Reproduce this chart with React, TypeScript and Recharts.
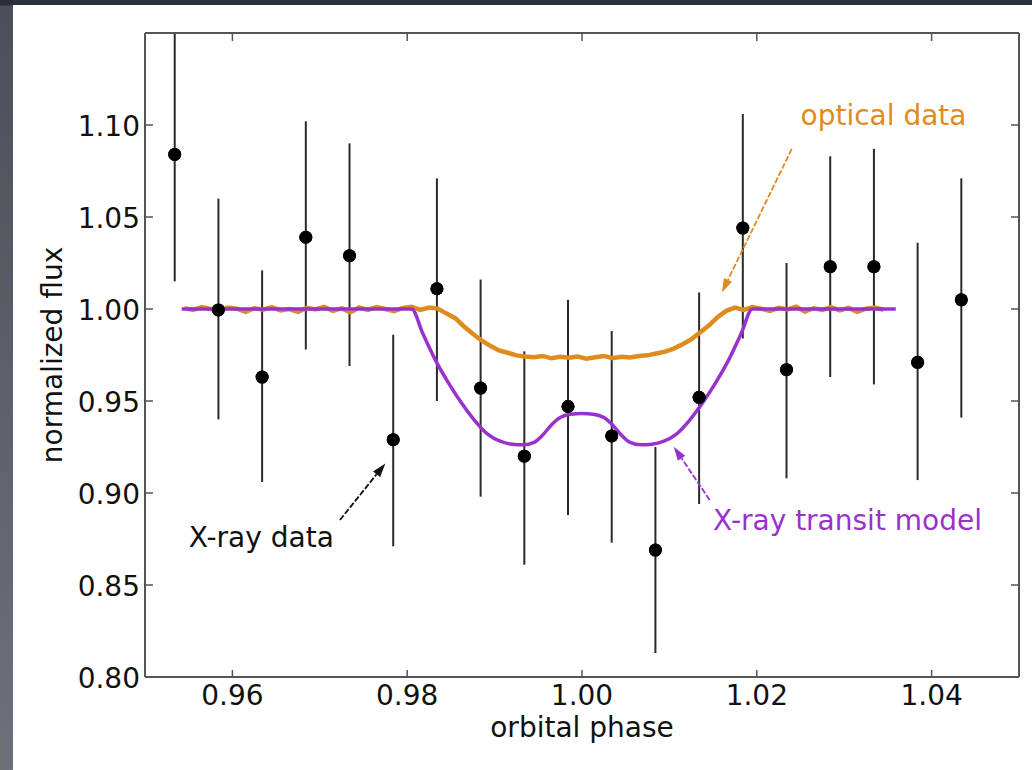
import { ComposedChart, ErrorBar, Line, ReferenceDot, ReferenceLine, Scatter, XAxis, YAxis } from 'recharts'

// X-ray light curve (binned points with asymmetric error bars)
const xrayPhase = [0.9534, 0.9584, 0.9634, 0.9684, 0.9734, 0.9784, 0.9834, 0.9884, 0.9934, 0.9984, 1.0034, 1.0084, 1.0134, 1.0184, 1.0234, 1.0284, 1.0334, 1.0384, 1.0434]
const xrayFlux = [1.084, 0.9995, 0.963, 1.039, 1.029, 0.929, 1.011, 0.957, 0.920, 0.947, 0.931, 0.869, 0.952, 1.044, 0.967, 1.023, 1.023, 0.971, 1.005]
const xrayLow = [1.015, 0.940, 0.906, 0.978, 0.969, 0.871, 0.950, 0.898, 0.861, 0.888, 0.873, 0.813, 0.894, 0.984, 0.908, 0.963, 0.959, 0.907, 0.941]
const xrayHigh = [1.15, 1.060, 1.021, 1.102, 1.090, 0.986, 1.071, 1.016, 0.977, 1.005, 0.988, 0.925, 1.009, 1.106, 1.025, 1.083, 1.087, 1.036, 1.071]

// optical light curve
const opticalPhase = [
  0.9545, 0.9555, 0.9565, 0.9575, 0.9585, 0.9595, 0.9605, 0.9615, 0.9625, 0.9635,
  0.9645, 0.9655, 0.9665, 0.9675, 0.9685, 0.9695, 0.9705, 0.9715, 0.9725, 0.9735,
  0.9745, 0.9755, 0.9765, 0.9775, 0.9785, 0.9795, 0.9805, 0.9815, 0.9825, 0.9835,
  0.9845, 0.9855, 0.9865, 0.9875, 0.9885, 0.9895, 0.9905, 0.9915, 0.9925, 0.9935,
  0.9945, 0.9955, 0.9965, 0.9975, 0.9985, 0.9995, 1.0005, 1.0015, 1.0025, 1.0035,
  1.0045, 1.0055, 1.0065, 1.0075, 1.0085, 1.0095, 1.0105, 1.0115, 1.0125, 1.0135,
  1.0145, 1.0155, 1.0165, 1.0175, 1.0185, 1.0195, 1.0205, 1.0215, 1.0225, 1.0235,
  1.0245, 1.0255, 1.0265, 1.0275, 1.0285, 1.0295, 1.0305, 1.0315, 1.0325, 1.0335,
  1.0345,
]
const opticalFlux = [
  1.0005, 0.9995, 1.0010, 1.0000, 0.9990, 1.0008, 1.0002, 0.9985, 1.0004, 0.9996,
  1.0010, 0.9992, 1.0000, 0.9985, 1.0006, 0.9998, 1.0012, 0.9990, 1.0003, 0.9982,
  1.0008, 0.9995, 1.0010, 1.0000, 0.9988, 1.0006, 1.0012, 0.9995, 1.0008, 1.0002,
  0.9975, 0.9950, 0.9905, 0.9865, 0.9830, 0.9800, 0.9775, 0.9762, 0.9748, 0.9742,
  0.9738, 0.9745, 0.9732, 0.9740, 0.9735, 0.9742, 0.9730, 0.9738, 0.9745, 0.9733,
  0.9740, 0.9736, 0.9745, 0.9748, 0.9758, 0.9768, 0.9785, 0.9808, 0.9835, 0.9872,
  0.9910, 0.9955, 0.9990, 1.0008, 0.9995, 1.0010, 1.0002, 0.9990, 1.0006, 0.9998,
  1.0012, 0.9986, 1.0004, 0.9995, 1.0010, 0.9992, 1.0006, 0.9985, 1.0002, 1.0008,
  0.9996,
]

// X-ray transit model
const modelPhase = [0.9542, 0.9805, 0.9818, 0.9832, 0.9847, 0.9862, 0.9877, 0.9892, 0.9907, 0.992, 0.9933, 0.9945, 0.9955, 0.9965, 0.9975, 0.9987, 1.0, 1.0013, 1.0025, 1.0035, 1.0045, 1.0055, 1.0068, 1.008, 1.0093, 1.0108, 1.0123, 1.0138, 1.0153, 1.0168, 1.0182, 1.0195, 1.0359]
const modelFlux = [1.0, 1.0, 0.9865, 0.9725, 0.96, 0.949, 0.9395, 0.932, 0.928, 0.9265, 0.9262, 0.9275, 0.9315, 0.937, 0.941, 0.9428, 0.9432, 0.9428, 0.941, 0.937, 0.9315, 0.9275, 0.9262, 0.9265, 0.928, 0.932, 0.9395, 0.949, 0.96, 0.9725, 0.9865, 1.0, 1.0]

const xTicks = [0.96, 0.98, 1.0, 1.02, 1.04]
const yTicks = [0.8, 0.85, 0.9, 0.95, 1.0, 1.05, 1.1]

const xray = xrayPhase.map((x, i) => ({ x, y: xrayFlux[i], err: [xrayFlux[i] - xrayLow[i], xrayHigh[i] - xrayFlux[i]] }))
const optical = opticalPhase.map((x, i) => ({ x, y: opticalFlux[i] }))
const model = modelPhase.map((x, i) => ({ x, y: modelFlux[i] }))

const FONT = 'DejaVu Sans'
const FRAME = '#555'
const ORANGE = '#DF8B1E'
const PURPLE = '#9932CC'

const BottomTick = (p: any) => (
  <g>
    <line x1={p.x} x2={p.x} y1={p.y} y2={p.y - 7} stroke={FRAME} strokeWidth={1.5} />
    <text x={p.x} y={p.y + 28} textAnchor="middle" fontFamily={FONT} fontSize={28} fill="#111">
      {p.payload.value.toFixed(2)}
    </text>
  </g>
)
const LeftTick = (p: any) => (
  <g>
    <line x1={p.x} x2={p.x + 8} y1={p.y} y2={p.y} stroke={FRAME} strokeWidth={1.5} />
    <text x={p.x - 5} y={p.y + 11} textAnchor="end" fontFamily={FONT} fontSize={28} fill="#111">
      {p.payload.value.toFixed(2)}
    </text>
  </g>
)
const TopTick = (p: any) => <line x1={p.x} x2={p.x} y1={p.y} y2={p.y + 8} stroke={FRAME} strokeWidth={1.5} />
const RightTick = (p: any) => <line x1={p.x} x2={p.x - 8} y1={p.y} y2={p.y} stroke={FRAME} strokeWidth={1.5} />

const XLabel = (p: any) => {
  const vb = p.viewBox
  return (
    <text x={vb.x + vb.width / 2} y={vb.y + vb.height} textAnchor="middle" fontFamily={FONT} fontSize={28} fill="#111">
      orbital phase
    </text>
  )
}
const YLabel = (p: any) => {
  const vb = p.viewBox
  const cx = 49
  const cy = vb.y + vb.height / 2
  return (
    <text x={cx} y={cy} transform={`rotate(-90, ${cx}, ${cy})`} textAnchor="middle" fontFamily={FONT} fontSize={28} fill="#111">
      normalized flux
    </text>
  )
}

const note = (text: string, color: string) => (p: any) => (
  <text x={p.viewBox.x} y={p.viewBox.y} fontFamily={FONT} fontSize={28} fill={color}>
    {text}
  </text>
)

const arrow = (color: string) => (p: any) => {
  const { x1, y1, x2, y2 } = p
  const dx = x2 - x1
  const dy = y2 - y1
  const len = Math.hypot(dx, dy) || 1
  const ux = dx / len
  const uy = dy / len
  const head = 14
  const half = 4.5
  const bx = x2 - ux * head
  const by = y2 - uy * head
  const pts = `${x2},${y2} ${bx - uy * half},${by + ux * half} ${bx + uy * half},${by - ux * half}`
  return (
    <g>
      <line x1={x1} y1={y1} x2={bx} y2={by} stroke={color} strokeWidth={1.8} strokeDasharray="6 2" />
      <polygon points={pts} fill={color} />
    </g>
  )
}

const dot = (p: any) => <circle cx={p.cx} cy={p.cy} r={6.5} fill="#000" />

export default function App() {
  return (
    <div
      style={{
        position: 'absolute',
        left: 0,
        top: 0,
        width: 1032,
        height: 770,
        overflow: 'hidden',
        background: 'linear-gradient(to bottom, #2b2f37 0px, #2b2f37 5px, #4b4f59 6px, #6d7179 100%)',
      }}
    >
      <div style={{ position: 'absolute', left: 13, top: 5, width: 1019, height: 765, background: '#fff' }}>
        <ComposedChart width={1019} height={765} margin={{ top: 27, right: 12, bottom: 33, left: 0 }}>
          <XAxis
            dataKey="x"
            type="number"
            domain={[0.95, 1.05]}
            ticks={xTicks}
            allowDataOverflow
            height={60}
            tickSize={0}
            tickMargin={0}
            tickLine={false}
            tick={BottomTick}
            axisLine={{ stroke: FRAME, strokeWidth: 2 }}
            label={{ content: XLabel }}
          />
          <XAxis
            xAxisId="top"
            orientation="top"
            dataKey="x"
            type="number"
            domain={[0.95, 1.05]}
            ticks={xTicks}
            allowDataOverflow
            height={1}
            tickSize={0}
            tickMargin={0}
            tickLine={false}
            tick={TopTick}
            axisLine={{ stroke: FRAME, strokeWidth: 2 }}
          />
          <YAxis
            dataKey="y"
            type="number"
            domain={[0.8, 1.15]}
            ticks={yTicks}
            allowDataOverflow
            width={132}
            tickSize={0}
            tickMargin={0}
            tickLine={false}
            tick={LeftTick}
            axisLine={{ stroke: FRAME, strokeWidth: 2 }}
            label={{ content: YLabel }}
          />
          <YAxis
            yAxisId="right"
            orientation="right"
            dataKey="y"
            type="number"
            domain={[0.8, 1.15]}
            ticks={yTicks}
            allowDataOverflow
            width={1}
            tickSize={0}
            tickMargin={0}
            tickLine={false}
            tick={RightTick}
            axisLine={{ stroke: FRAME, strokeWidth: 2 }}
          />
          <Scatter data={xray} dataKey="y" shape={dot} isAnimationActive={false}>
            <ErrorBar dataKey="err" direction="y" width={0} stroke="#2a2a2a" strokeWidth={2} isAnimationActive={false} />
          </Scatter>
          <Line data={optical} dataKey="y" type="linear" stroke={ORANGE} strokeWidth={4.5} dot={false} isAnimationActive={false} />
          <Line
            data={model}
            dataKey="y"
            xAxisId="top"
            yAxisId="right"
            type="monotone"
            stroke={PURPLE}
            strokeWidth={3.5}
            dot={false}
            isAnimationActive={false}
          />
          <Scatter data={xray} dataKey="y" shape={dot} isAnimationActive={false} />
          <ReferenceLine segment={[{ x: 1.024, y: 1.087 }, { x: 1.016, y: 1.009 }]} shape={arrow(ORANGE)} />
          <ReferenceLine segment={[{ x: 0.9723, y: 0.8853 }, { x: 0.9775, y: 0.9161 }]} shape={arrow('#111')} />
          <ReferenceLine segment={[{ x: 1.0146, y: 0.8962 }, { x: 1.0105, y: 0.9252 }]} shape={arrow(PURPLE)} />
          <ReferenceDot x={1.025} y={1.1} r={0} fill="none" stroke="none" label={{ content: note('optical data', ORANGE) }} />
          <ReferenceDot x={0.955} y={0.8707} r={0} fill="none" stroke="none" label={{ content: note('X-ray data', '#111') }} />
          <ReferenceDot x={1.015} y={0.88} r={0} fill="none" stroke="none" label={{ content: note('X-ray transit model', PURPLE) }} />
        </ComposedChart>
      </div>
    </div>
  )
}
